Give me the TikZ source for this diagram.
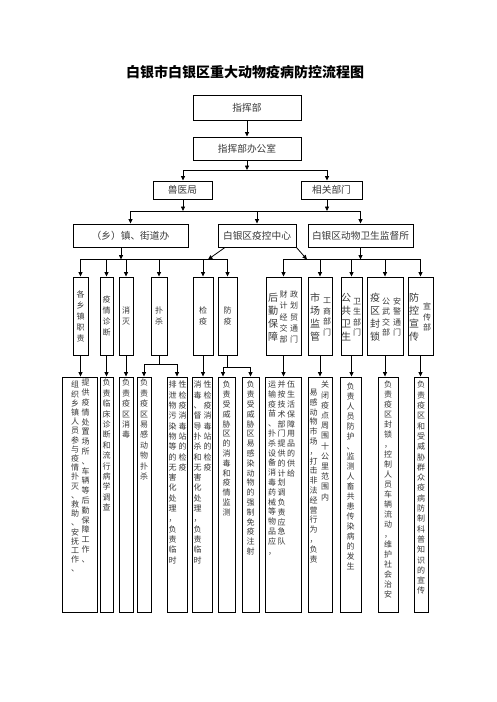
\documentclass[tikz,border=0pt]{standalone}
\usepackage{fontspec}
\setmainfont{Noto Sans CJK SC}
\usetikzlibrary{arrows.meta}
\makeatletter
\newcommand\vcol[2]{\vbox{\baselineskip=#1\lineskip=0pt\lineskiplimit=-20pt\@tfor\vc@c:=#2\do{\hbox to 1em{\hss\vc@c\hss}}}}
\makeatother
\tikzset{
 bx/.style={draw=black, line width=0.9pt, inner sep=0pt},
 arr/.style={draw=black, line width=0.8pt, -{Triangle[length=4.5pt,width=4pt]}},
 ln/.style={draw=black, line width=0.8pt},
 lbl/.style={text=black!78, font=\fontsize{9.7}{11}\selectfont},
 vs/.style={inner sep=0pt, text=black!78, font=\fontsize{8}{10}\selectfont},
 vl/.style={inner sep=0pt, text=black!78, font=\fontsize{10}{12}\selectfont},
 vb/.style={inner sep=0pt, text=black!78, font=\fontsize{8}{10}\selectfont, anchor=north},
}
\begin{document}
\begin{tikzpicture}[x=1pt,y=-1pt]
\useasboundingbox[fill=white] (0,0) rectangle (496,702);
% title
\node[inner sep=0pt, font=\bfseries\fontsize{14}{16}\selectfont] (title) at (245,72) {白银市白银区重大动物疫病防控流程图};
% top rows
\node[bx, lbl, minimum width=108pt, minimum height=25pt] (n1) at (247,107.5) {指挥部};
\node[bx, lbl, minimum width=108pt, minimum height=23pt] (n2) at (247,148.5) {指挥部办公室};
\node[bx, lbl, minimum width=59pt, minimum height=18pt] (n3a) at (182.5,190) {兽医局};
\node[bx, lbl, minimum width=61pt, minimum height=18pt] (n3b) at (331.5,190) {相关部门};
\node[bx, lbl, minimum width=115pt, minimum height=23pt] (n4a) at (130.5,235.5) {（乡）镇、街道办};
\node[bx, lbl, minimum width=78pt, minimum height=23pt] (n4b) at (257,235.5) {白银区疫控中心};
\node[bx, lbl, minimum width=105pt, minimum height=23pt] (n4c) at (360.5,235.5) {白银区动物卫生监督所};
% bus coordinates
\coordinate (b1m) at (247,170);
\coordinate (b1l) at (183,170);
\coordinate (b1r) at (327,170);
\coordinate (b2a) at (183,211);
\coordinate (b2b) at (327,211);
\coordinate (b3a) at (121,259.5);
\coordinate (b3d) at (208,259.5);
\coordinate (b3e) at (307,259.5);
\coordinate (b3r) at (360.5,259.5);
% connectors upper
\draw[arr] (n1.south) -- (n2.north);
\draw[arr] (n2.south) -- (b1m);
\draw[arr] (b1m) -| (b1l |- n3a.north);
\draw[arr] (b1m) -| (b1r |- n3b.north);
\draw[arr] (b2a |- n3a.south) -- (b2a);
\draw[arr] (b2b |- n3b.south) -- (b2b);
\draw[ln] (b2a) -- (b2b);
\draw[arr] (b2a) -| (n4a.north);
\draw[arr] (b2a) -| (n4b.north);
\draw[arr] (b2b) -| (n4c.north);
\draw[arr] (b3a |- n4a.south) -- (b3a);
\draw[arr] ([xshift=-32pt]n4b.south) -- (b3d);
\draw[arr] (n4b.south east) -- (b3e);
\draw[arr] (n4c.south) -- (b3r);
% header boxes
\foreach \nm/\cx/\w in {hA/80.5/15,hB/106.5/13,hC/126/14,hD/159/16,hE/203/20,hF/227.5/19,hG/283.5/35,hH/320/24,hI/351.5/21,hJ/385/36,hK/420.5/25}
  \node[bx, minimum width=\w pt, minimum height=78pt] (\nm) at (\cx,316) {};
\foreach \nm in {hA,hB,hC,hD,hE,hF}
  \draw[arr] (b3a) -| (\nm.north);
\foreach \nm in {hG,hH,hI,hJ,hK}
  \draw[arr] (b3r) -| (\nm.north);
% header texts
\node[vs] (tA) at (80.5,316) {\vcol{11pt}{各乡镇职责}};
\node[vs] (tB) at (106.5,316) {\vcol{11pt}{疫情诊断}};
\node[vs] (tC) at (126,316) {\vcol{11pt}{消灭}};
\node[vs] (tD) at (159,316) {\vcol{11pt}{扑杀}};
\node[vs] (tE) at (203,316) {\vcol{11pt}{检疫}};
\node[vs] (tF) at (227.5,316) {\vcol{11pt}{防疫}};
\node[vl] (tG1) at (273,317) {\vcol{13pt}{后勤保障}};
\node[vs] (tG2) at (283.5,317) {\vcol{11.3pt}{财计经交部}};
\node[vs] (tG3) at (294,317) {\vcol{11.3pt}{政划贸通门}};
\node[vl] (tH1) at (315,317) {\vcol{13pt}{市场监管}};
\node[vs] (tH2) at (327,317) {\vcol{10.5pt}{工商部门}};
\node[vl] (tI1) at (346,317) {\vcol{13pt}{公共卫生}};
\node[vs] (tI2) at (357,317) {\vcol{10.5pt}{卫生部门}};
\node[vl] (tJ1) at (375,317) {\vcol{13pt}{疫区封锁}};
\node[vs] (tJ2) at (386,317) {\vcol{10.5pt}{公武交部}};
\node[vs] (tJ3) at (397,317) {\vcol{10.5pt}{安警通门}};
\node[vl] (tK1) at (414,317) {\vcol{13pt}{防控宣传}};
\node[vs] (tK2) at (427,317) {\vcol{10.5pt}{宣传部}};
% bottom boxes
\foreach \nm/\cx/\w in {bA/79.5/35,bB/106.5/13,bC/126/14,bD1/144/14,bD2/177/20,bE/202/20,bF1/226.5/17,bF2/250.5/17,bG/283/36,bH/320/24,bI/350.5/21,bJ/388/20,bK/421/14}
  \node[bx, minimum width=\w pt, minimum height=235pt] (\nm) at (\cx,494.5) {};
% sub buses
\coordinate (sD) at (159,364);
\coordinate (sF) at (227.5,367);
\draw[arr] (hA.south) -- (hA.south |- bA.north);
\draw[arr] (hB.south) -- (bB.north);
\draw[arr] (hC.south) -- (bC.north);
\draw[ln] (hD.south) -- (sD);
\draw[arr] (sD) -| (bD1.north);
\draw[arr] (sD) -| (bD2.north);
\draw[arr] (hE.south) -- (hE.south |- bE.north);
\draw[ln] (hF.south) -- (sF);
\draw[arr] (sF) -| ([xshift=-3.5pt]bF1.north);
\draw[arr] (sF) -| (bF2.north);
\draw[arr] (hG.south) -- (hG.south |- bG.north);
\draw[arr] (hH.south) -- (bH.north);
\draw[arr] (hI.south) -- (hI.south |- bI.north);
\draw[arr] (hJ.south) -- (hJ.south |- bJ.north);
\draw[arr] (hK.south) -- (hK.south |- bK.north);
% bottom texts
\node[vb] (uA1) at (75,381) {\vcol{9.2pt}{组织乡镇人员参与疫情扑灭、救助、安抚工作、}};
\node[vb] (uA2) at (85.5,379) {\vcol{9.8pt}{提供疫情处置场所、车辆等后勤保障工作、}};
\node[vb] (uB) at (106.5,379) {\vcol{10.4pt}{负责临床诊断和流行病学调查}};
\node[vb] (uC) at (126,379) {\vcol{10.4pt}{负责疫区消毒}};
\node[vb] (uD1) at (144,379) {\vcol{10.4pt}{负责疫区易感动物扑杀}};
\node[vb] (uD2a) at (172.5,381) {\vcol{10.3pt}{排泄物污染物等的无害化处理，负责临时}};
\node[vb] (uD2b) at (182.5,381) {\vcol{10.3pt}{性检疫消毒站的检疫}};
\node[vb] (uEa) at (197.5,381) {\vcol{10.3pt}{消毒、督导扑杀和无害化处理，负责临时}};
\node[vb] (uEb) at (207.5,381) {\vcol{10.3pt}{性检疫消毒站的检疫}};
\node[vb] (uF1) at (226.5,381) {\vcol{9.8pt}{负责受威胁区的消毒和疫情监测}};
\node[vb] (uF2) at (250.5,381) {\vcol{9.8pt}{负责受威胁区易感染动物的强制免疫注射}};
\node[vb] (uGa) at (272,381) {\vcol{9.8pt}{运输疫苗、扑杀设备消毒药械等物品应，}};
\node[vb] (uGb) at (281.5,381) {\vcol{9.8pt}{并按技术部门提供的计划调负责应急队}};
\node[vb] (uGc) at (291,381) {\vcol{9.8pt}{伍生活保障用品的供给}};
\node[vb] (uHa) at (313.5,389) {\vcol{9.8pt}{易感动物市场，打击非法经营行为，负责}};
\node[vb] (uHb) at (325,381) {\vcol{10.2pt}{关闭疫点周围十公里范围内}};
\node[vb] (uI) at (350.5,383) {\vcol{10pt}{负责人员防护、监测人畜共患传染病的发生}};
\node[vb] (uJ) at (388,381) {\vcol{10pt}{负责疫区封锁，控制人员车辆流动，维护社会治安}};
\node[vb] (uK) at (421,381) {\vcol{10.3pt}{负责疫区和受威胁群众疫病防制科普知识的宣传}};
\end{tikzpicture}
\end{document}
